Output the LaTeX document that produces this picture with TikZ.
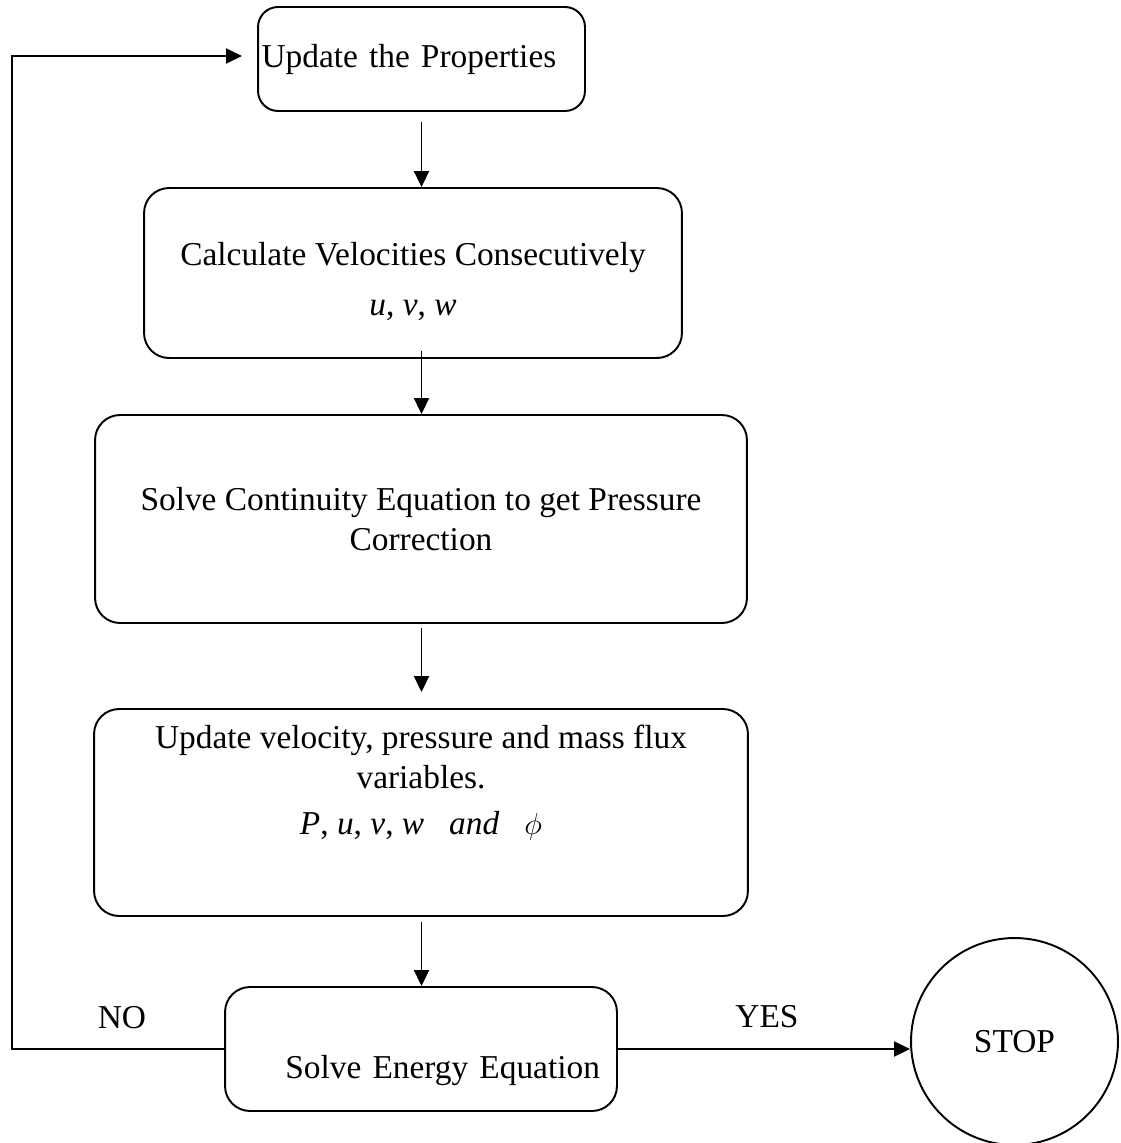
\documentclass[tikz,border=0pt]{standalone}
\usepackage{amsmath, amssymb}
\usepackage{fontspec}
\setmainfont{Liberation Serif}
\usetikzlibrary{shapes, arrows.meta, positioning}

\begin{document}
\begin{tikzpicture}[x=0.02cm, y=-0.02cm,
  every node/.style={font=\fontsize{19}{23}\selectfont},
  stepbox/.style={draw, line width=1.1pt, rounded corners=0.5cm, align=center, inner sep=0pt},
  arr/.style={-{Triangle[length=0.32cm, width=0.3cm]}, line width=1.1pt}]
\useasboundingbox (0,0) rectangle (1121,1143);
\node[stepbox, rounded corners=0.4cm, minimum width=6.54cm, minimum height=2.08cm, text width=6.4cm, align=left] (props) at (421.5,59) {Update the Properties};
\node[stepbox, minimum width=10.76cm, minimum height=3.4cm] (velo) at (413,273) {\rule{0pt}{0.8cm}Calculate Velocities Consecutively\\[5pt]\textit{u}, \textit{v}, \textit{w}};
\node[stepbox, minimum width=13.04cm, minimum height=4.16cm] (cont) at (421,519) {Solve Continuity Equation to get Pressure\\Correction};
\node[stepbox, minimum width=13.08cm, minimum height=4.14cm] (upd) at (421,812.5) {Update velocity, pressure and mass flux\\variables.\\[3pt]\textit{P}, \textit{u}, \textit{v}, \textit{w}\ \ \ \textit{and}\ \ \ $\phi$\\[0.5cm]\mbox{}};
\node[stepbox, minimum width=7.84cm, minimum height=2.48cm, text width=7.16cm, inner xsep=0.34cm, align=right] (energy) at (421,1049) {\mbox{}\\[0.5cm]Solve Energy Equation};
\node[circle, draw, line width=1.1pt, minimum size=4.14cm, inner sep=0pt] (stop) at (1014.5,1041.5) {STOP};
\node (no) at (122,1018) {NO};
\node (yes) at (767,1017) {YES};
%arrows
\draw[arr, shorten <=0.2cm] (props.south) -- (props.south |- velo.north);
\draw[arr, shorten <=-0.16cm] (props.south |- velo.south) -- (props.south |- cont.north);
\draw[arr, shorten <=0.08cm, shorten >=0.32cm] (props.south |- cont.south) -- (props.south |- upd.north);
\draw[arr, shorten <=0.1cm] (props.south |- upd.south) -- (props.south |- energy.north);
\coordinate (corner) at (12,56);
\coordinate (back) at (242,56);
\draw[arr] (energy.west) -| (corner) -- (back);
\draw[arr] (energy.east) -- (energy.east -| stop.west);
\end{tikzpicture}
\end{document}
